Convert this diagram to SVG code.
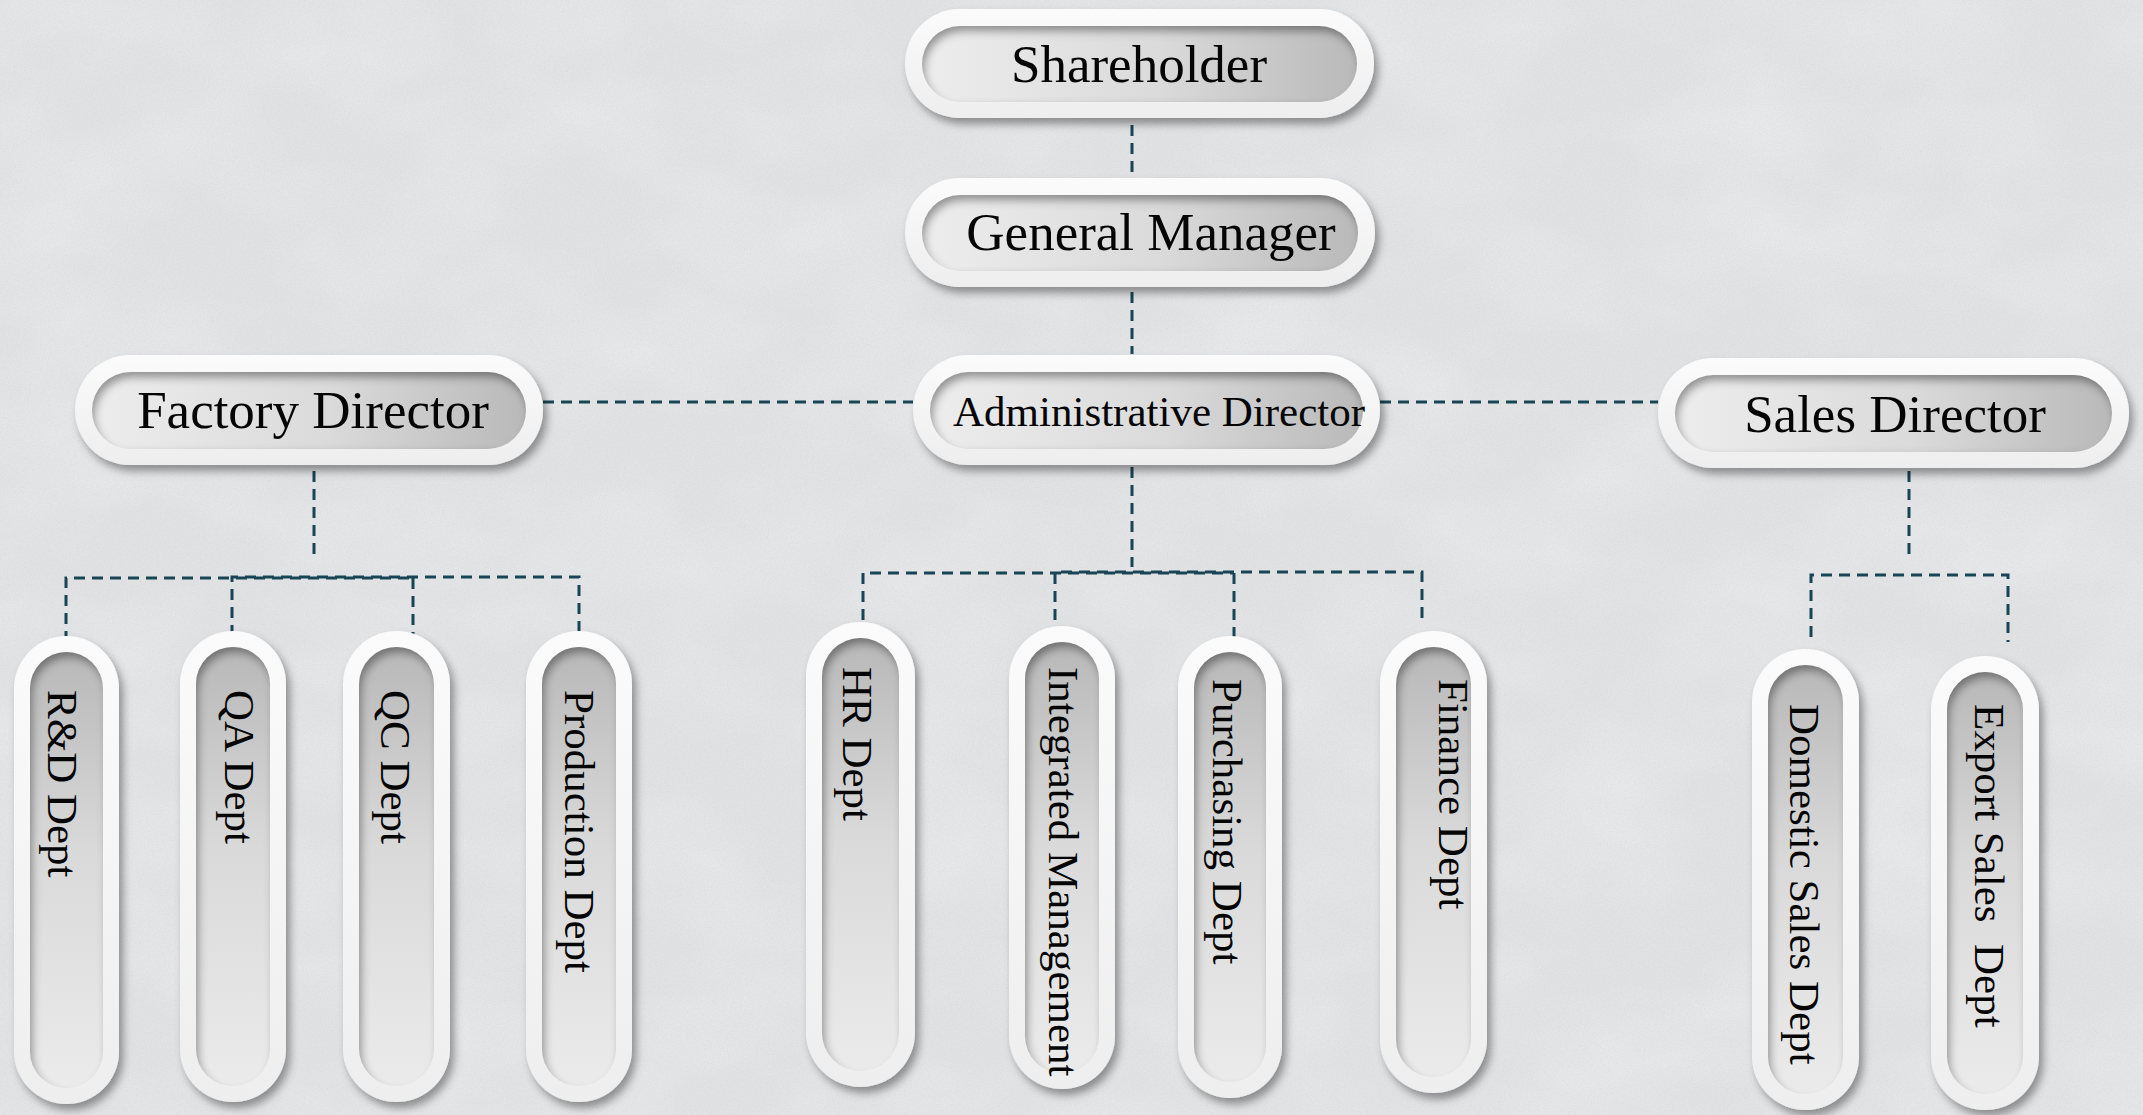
<svg xmlns="http://www.w3.org/2000/svg" width="2143" height="1115" viewBox="0 0 2143 1115">
<style>
.ring{fill:url(#ringG);filter:url(#drop)}
.inH{fill:url(#inH);filter:url(#inset)}
.inV{fill:url(#inV);filter:url(#inset)}
.lbl{font-family:"Liberation Serif","Times New Roman",serif;fill:#050505}
.big{font-size:53px;text-anchor:middle}
.mid{font-size:43px;text-anchor:middle}
.vt{font-size:43px}
.con{fill:none;stroke:#184555;stroke-width:3;stroke-dasharray:11 7}
</style>
<defs>
<linearGradient id="ringG" x1="0" y1="0" x2="0" y2="1"><stop offset="0" stop-color="#fbfbfb"/><stop offset="1" stop-color="#eeeeee"/></linearGradient>
<linearGradient id="inH" x1="0" y1="0" x2="1" y2="0"><stop offset="0" stop-color="#ededed"/><stop offset="0.55" stop-color="#dadada"/><stop offset="1" stop-color="#b9b9b9"/></linearGradient>
<linearGradient id="inV" x1="0" y1="0" x2="0" y2="1"><stop offset="0" stop-color="#b8b8b8"/><stop offset="0.45" stop-color="#d9d9d9"/><stop offset="1" stop-color="#ebebeb"/></linearGradient>
<filter id="drop" x="-10%" y="-10%" width="125%" height="125%"><feDropShadow dx="4" dy="6" stdDeviation="4" flood-color="#000" flood-opacity="0.38"/></filter>
<filter id="inset" x="-5%" y="-5%" width="110%" height="110%">
<feOffset in="SourceAlpha" dx="3" dy="6" result="o"/>
<feGaussianBlur in="o" stdDeviation="4" result="b"/>
<feComposite in="SourceAlpha" in2="b" operator="out" result="e"/>
<feFlood flood-color="#000" flood-opacity="0.65"/>
<feComposite in2="e" operator="in" result="s"/>
<feMerge><feMergeNode in="SourceGraphic"/><feMergeNode in="s"/></feMerge>
</filter>
<filter id="noise" x="0" y="0" width="100%" height="100%">
<feTurbulence type="fractalNoise" baseFrequency="0.7" numOctaves="2" seed="3"/>
<feColorMatrix type="matrix" values="0 0 0 0 0.5  0 0 0 0 0.5  0 0 0 0 0.52  0.9 0 0 0 -0.35"/>
</filter>
<filter id="cloud" x="0" y="0" width="100%" height="100%">
<feTurbulence type="fractalNoise" baseFrequency="0.006 0.01" numOctaves="3" seed="7"/>
<feColorMatrix type="matrix" values="0 0 0 0 1  0 0 0 0 1  0 0 0 0 1  0.8 0 0 0 -0.3"/>
</filter>
</defs>
<rect id="bg" width="2143" height="1115" fill="#e1e2e4"/>
<rect width="2143" height="1115" filter="url(#cloud)" opacity="0.6"/>
<rect width="2143" height="1115" filter="url(#noise)" opacity="0.35"/>

<g id="connectors">
<path class="con" d="M1132 125V176"/>
<path class="con" d="M1132 292V354"/>
<path class="con" d="M543 402H913"/>
<path class="con" d="M1380 402H1658"/>
<path class="con" d="M314 471V558"/>
<path class="con" d="M66 642V578H413"/>
<path class="con" d="M232 636V577H579V632"/>
<path class="con" d="M413 578V637"/>
<path class="con" d="M1132 467V567"/>
<path class="con" d="M863 620V573H1234"/>
<path class="con" d="M1055 620V572H1422V625"/>
<path class="con" d="M1234 573V643"/>
<path class="con" d="M1909 471V558"/>
<path class="con" d="M1811 637V575H2008V642"/>
</g>

<g id="shareholder"><rect class="ring" x="905" y="9" width="469" height="109" rx="54.5"/><rect class="inH" x="922" y="26" width="435" height="76" rx="38"/><text class="lbl big" x="1139" y="82">Shareholder</text></g>
<g id="general-manager"><rect class="ring" x="905" y="178" width="470" height="109" rx="54.5"/><rect class="inH" x="922" y="195" width="436" height="76" rx="38"/><text class="lbl big" x="1151" y="250">General Manager</text></g>
<g id="administrative-director"><rect class="ring" x="913" y="355" width="467" height="110" rx="55"/><rect class="inH" x="930" y="372" width="433" height="77" rx="38.5"/><text class="lbl mid" x="1159" y="426">Administrative Director</text></g>
<g id="factory-director"><rect class="ring" x="75" y="355" width="468" height="110" rx="55"/><rect class="inH" x="92" y="372" width="434" height="77" rx="38.5"/><text class="lbl big" x="313" y="428">Factory Director</text></g>
<g id="sales-director"><rect class="ring" x="1658" y="358" width="471" height="110" rx="55"/><rect class="inH" x="1675" y="375" width="437" height="77" rx="38.5"/><text class="lbl big" x="1895" y="432">Sales Director</text></g>

<g id="rd-dept"><rect class="ring" x="14" y="636" width="105" height="468" rx="52.5"/><rect class="inV" x="30" y="652" width="73" height="436" rx="36.5"/><text class="lbl vt" transform="translate(62 690) rotate(90)" y="14">R&amp;D Dept</text></g>
<g id="qa-dept"><rect class="ring" x="180" y="631" width="106" height="471" rx="53"/><rect class="inV" x="196" y="647" width="74" height="439" rx="37"/><text class="lbl vt" transform="translate(239 690) rotate(90)" y="14">QA Dept</text></g>
<g id="qc-dept"><rect class="ring" x="343" y="631" width="107" height="471" rx="53.5"/><rect class="inV" x="359" y="647" width="75" height="439" rx="37.5"/><text class="lbl vt" transform="translate(395 690) rotate(90)" y="14">QC Dept</text></g>
<g id="production-dept"><rect class="ring" x="526" y="631" width="106" height="471" rx="53"/><rect class="inV" x="542" y="647" width="74" height="439" rx="37"/><text class="lbl vt" transform="translate(579 690) rotate(90)" y="14">Production Dept</text></g>
<g id="hr-dept"><rect class="ring" x="806" y="622" width="109" height="465" rx="54.5"/><rect class="inV" x="822" y="638" width="77" height="433" rx="38.5"/><text class="lbl vt" transform="translate(857 667) rotate(90)" y="14">HR Dept</text></g>
<g id="integrated-management"><rect class="ring" x="1009" y="626" width="106" height="463" rx="53"/><rect class="inV" x="1025" y="642" width="74" height="431" rx="37"/><text class="lbl vt" transform="translate(1063 667) rotate(90)" y="14">Integrated Management</text></g>
<g id="purchasing-dept"><rect class="ring" x="1178" y="636" width="104" height="462" rx="52"/><rect class="inV" x="1194" y="652" width="72" height="430" rx="36"/><text class="lbl vt" transform="translate(1227 679) rotate(90)" y="14">Purchasing Dept</text></g>
<g id="finance-dept"><rect class="ring" x="1380" y="631" width="107" height="462" rx="53.5"/><rect class="inV" x="1396" y="647" width="75" height="430" rx="37.5"/><text class="lbl vt" transform="translate(1453 679) rotate(90)" y="14">Finance Dept</text></g>
<g id="domestic-sales-dept"><rect class="ring" x="1752" y="649" width="107" height="461" rx="53.5"/><rect class="inV" x="1768" y="665" width="75" height="429" rx="37.5"/><text class="lbl vt" transform="translate(1804 704) rotate(90)" y="14">Domestic Sales Dept</text></g>
<g id="export-sales-dept"><rect class="ring" x="1931" y="656" width="108" height="454" rx="54"/><rect class="inV" x="1947" y="672" width="76" height="422" rx="38"/><text class="lbl vt" transform="translate(1989 704) rotate(90)" y="14" xml:space="preserve">Export Sales  Dept</text></g>
</svg>
